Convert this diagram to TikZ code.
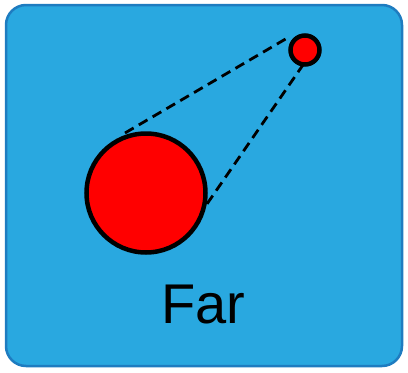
\documentclass[tikz,border=0pt]{standalone}
\usepackage{fontspec}
\setmainfont{Liberation Sans}
\definecolor{boxfill}{HTML}{29A8E0}
\definecolor{boxline}{HTML}{1E7CC0}
\definecolor{ballred}{HTML}{FF0000}
\begin{document}
\begin{tikzpicture}[x=1pt,y=-1pt,
  ball/.style={circle,draw=black,fill=ballred,line width=4.5pt,inner sep=0pt},
  sight/.style={draw=black,line width=2.8pt,dash pattern=on 10pt off 6pt}]
\useasboundingbox (0,0) rectangle (408,373);
\draw[fill=boxfill,draw=boxline,line width=2.5pt,rounded corners=20pt] (6,5) rectangle (402,366) ;
\coordinate (ua) at (125,133);
\coordinate (ub) at (289,37);
\coordinate (la) at (198,217);
\coordinate (lb) at (305,62);
\draw[sight] (ua) -- (ub);
\draw[sight] (la) -- (lb);
\node[ball,minimum size=119pt] (big) at (146,193) {};
\node[ball,minimum size=29pt] (small) at (305,50) {};
\node[font=\fontsize{56}{60}\selectfont,anchor=base] (far) at (203,323) {Far};
\end{tikzpicture}
\end{document}
